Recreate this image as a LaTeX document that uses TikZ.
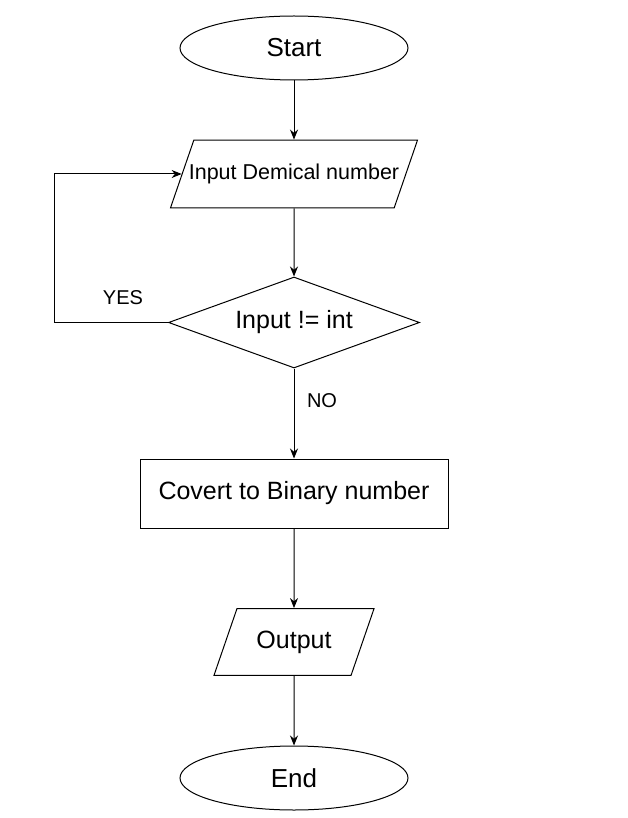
\documentclass[tikz,border=0pt]{standalone}
\usepackage{fontspec}
\setmainfont{Liberation Sans}
\usepackage{tikz}
\usetikzlibrary{shapes.geometric,arrows.meta,positioning}

\begin{document}
\begin{tikzpicture}[x=1pt,y=-1pt,
	box/.style={draw,line width=1pt},
	terminal/.style={box,ellipse,minimum width=228pt,minimum height=64pt,inner sep=0pt,font=\fontsize{26}{30}\selectfont},
	inout/.style={box,trapezium,trapezium left angle=71,trapezium right angle=109},
	process/.style={box,rectangle,minimum width=308pt,minimum height=69pt,inner sep=0pt,font=\fontsize{25}{30}\selectfont},
	decision/.style={box,diamond,aspect=2.76,minimum width=251pt,minimum height=91pt,inner sep=0pt,font=\fontsize{25}{30}\selectfont},
	flow/.style={-{Stealth[length=10pt,width=8pt]},line width=1pt},
	lbl/.style={font=\fontsize{20}{24}\selectfont}]
	\useasboundingbox (0,0) rectangle (628,818);
	\node[terminal] (start) at (294,48) {Start};
	\node[inout,inner xsep=-5pt,inner ysep=23.9pt,font=\fontsize{21.5}{26}\selectfont] (inp) at (294,174) {Input Demical number};
	\node[decision] (dec) at (294,322.5) {Input != int};
	\node[process] (conv) at (294,493.5) {Covert to Binary number};
	\node[inout,inner xsep=19.5pt,inner ysep=22.1pt,font=\fontsize{25}{30}\selectfont] (out) at (294,642) {Output};
	\node[terminal] (end) at (294,778) {End};
	\coordinate (loop) at (54,322.5);
	\node[lbl] (yes) at (123,298) {YES};
	\node[lbl] (no) at (322,401) {NO};
	\draw[flow] (start) -- (inp);
	\draw[flow] (inp) -- (dec);
	\draw[flow] (dec) -- (conv);
	\draw[flow] (conv) -- (out);
	\draw[flow] (out) -- (end);
	\draw[flow] (dec.west) -- (loop) |- (inp.west);
\end{tikzpicture}
\end{document}
